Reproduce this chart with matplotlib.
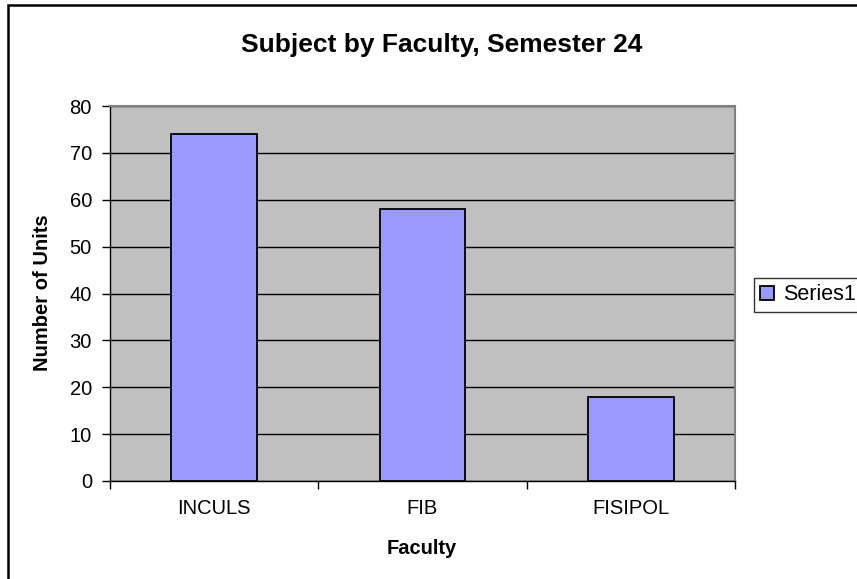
import matplotlib.pyplot as plt
import matplotlib.patches as mpatches
from matplotlib.ticker import FixedLocator, NullFormatter

faculties = ["INCULS", "FIB", "FISIPOL"]
units = [74, 58, 18]
series_name = "Series1"
y_ticks = [0, 10, 20, 30, 40, 50, 60, 70, 80]

plt.rcParams["font.family"] = ["Liberation Sans", "DejaVu Sans"]

fig = plt.figure(figsize=(8.57, 5.79), dpi=100)
W, H = 857, 579

# chart area border (runs off the right and bottom of the picture)
fig.patches.append(mpatches.Rectangle((8 / W, -0.1), 1.2, 1 - 5 / H + 0.1,
                                      transform=fig.transFigure, fill=False,
                                      edgecolor="black", linewidth=1.8))

ax = fig.add_axes([110 / W, 1 - 481 / H, 625 / W, 375 / H])
ax.set_facecolor("#C0C0C0")

x = list(range(len(faculties)))
bars = ax.bar(x, units, width=0.41, color="#9999FF", edgecolor="black",
              linewidth=1.3, label=series_name, zorder=3)

ax.set_xlim(-0.5, len(faculties) - 0.5)
ax.set_ylim(0, 80)
ax.set_yticks(y_ticks)
ax.yaxis.grid(True, color="black", linewidth=1.0, zorder=1)
ax.set_axisbelow(True)

# category boundaries as major ticks, labels on minor ticks
ax.xaxis.set_major_locator(FixedLocator([i - 0.5 for i in range(len(faculties) + 1)]))
ax.xaxis.set_major_formatter(NullFormatter())
ax.xaxis.set_minor_locator(FixedLocator(x))
ax.set_xticklabels(faculties, minor=True)
ax.tick_params(axis="x", which="major", direction="out", length=6, width=1)
ax.tick_params(axis="x", which="minor", length=0, pad=13, labelsize=14.5)
ax.tick_params(axis="y", direction="out", length=6, width=1, pad=7, labelsize=14.5)

for side in ["top", "right"]:
    ax.spines[side].set_color("#808080")
    ax.spines[side].set_linewidth(1.5)
for side in ["left", "bottom"]:
    ax.spines[side].set_color("black")
    ax.spines[side].set_linewidth(1.0)

fig.text(442 / W, 1 - 45 / H, "Subject by Faculty, Semester 24",
         ha="center", va="center", fontsize=19, fontweight="bold")
fig.text(43 / W, 1 - 293 / H, "Number of Units", rotation=90,
         ha="center", va="center", fontsize=14.5, fontweight="bold")
fig.text(422 / W, 1 - 548 / H, "Faculty",
         ha="center", va="center", fontsize=14.5, fontweight="bold")

leg = fig.legend(handles=[bars], labels=[series_name], loc="center left",
                 bbox_to_anchor=(754 / W, 1 - 295 / H), fontsize=15.5,
                 frameon=True, fancybox=False, handlelength=0.65,
                 handleheight=0.65, handletextpad=0.4, borderpad=0.3,
                 borderaxespad=0)
leg.get_frame().set_edgecolor("black")
leg.get_frame().set_linewidth(1.0)

fig.savefig("out.png", dpi=100)
